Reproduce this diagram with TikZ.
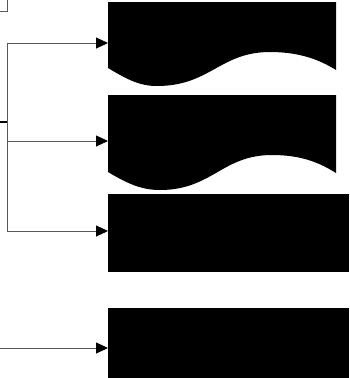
\documentclass[tikz,border=0pt]{standalone}
\usetikzlibrary{arrows.meta}
\begin{document}
\begin{tikzpicture}[x=1pt,y=-1pt,
  blk/.style={rectangle,fill=black,draw=none,inner sep=0pt,outer sep=0pt},
  ghost/.style={rectangle,draw=none,inner sep=0pt,outer sep=0pt},
  conn/.style={draw=black!65,line width=0.9pt},
  arr/.style={conn,-{Triangle[length=12pt,width=11pt,fill=black,color=black]}}]
\useasboundingbox (0,0) rectangle (350,378);
% partially visible source box at top left
\node[ghost,draw=black!65,line width=0.9pt,minimum width=40pt,minimum height=30pt,anchor=south east] (src) at (7,11) {};
% document shape 1
\node[ghost,minimum width=228pt,minimum height=82pt] (a) at (222,43) {};
\fill[black] (108,2) -- (336,2) -- (336,70)
  .. controls (320,60) and (300,52) .. (270,52)
  .. controls (220,52) and (210,86) .. (157,86)
  .. controls (140,86) and (128,80) .. (108,68) -- cycle;
% document shape 2
\node[ghost,minimum width=228pt,minimum height=92pt] (b) at (222,141) {};
\fill[black] (108,95) -- (336,95) -- (336,173)
  .. controls (320,163) and (302,155) .. (272,155)
  .. controls (222,155) and (212,190) .. (160,190)
  .. controls (142,190) and (128,184) .. (108,172) -- cycle;
% rectangles
\node[blk,minimum width=241pt,minimum height=78pt] (c) at (228.5,233) {};
\node[blk,minimum width=241pt,minimum height=80pt] (d) at (228.5,348) {};
% trunk
\coordinate (t1) at (7,43);
\coordinate (t2) at (7,141);
\coordinate (t3) at (7,231);
\coordinate (j) at (7,122);
\coordinate (in) at (0,122);
\coordinate (in2) at (0,348);
\draw[conn] (t1) -- (t3);
\draw[black,line width=1.6pt] (in) -- (j);
\draw[arr] (t1) -- (a.west);
\draw[arr] (t2) -- (b.west);
\draw[arr] (t3) -- (c.west |- t3);
\draw[arr] (in2) -- (d.west);
\end{tikzpicture}
\end{document}
